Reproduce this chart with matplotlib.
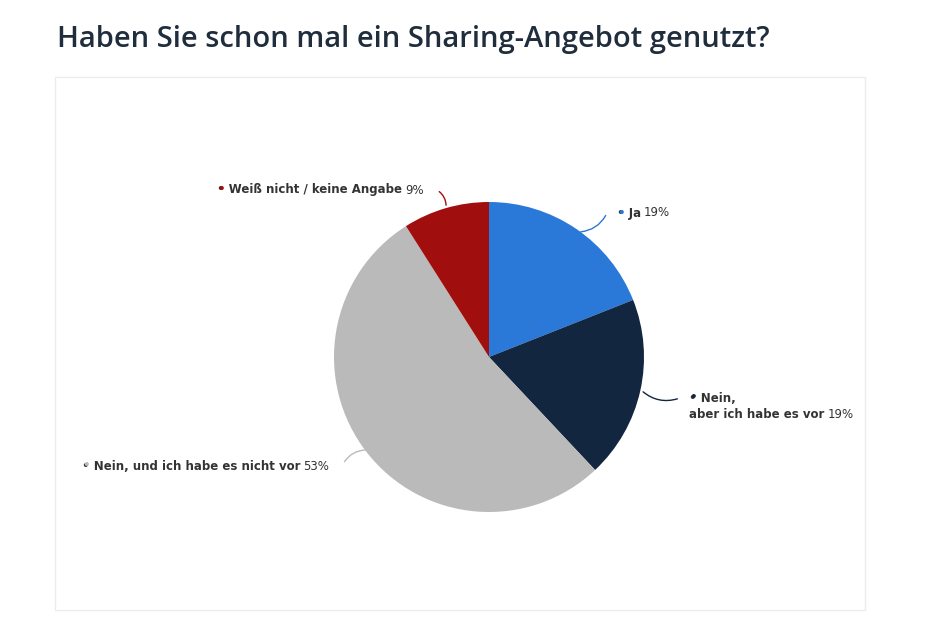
import matplotlib
matplotlib.use("Agg")
import matplotlib.pyplot as plt
from matplotlib.patches import Rectangle

labels = ["Ja", "Nein,\naber ich habe es vor", "Nein, und ich habe es nicht vor", "Weiß nicht / keine Angabe"]
values = [19, 19, 53, 9]
colors = ["#2a78d8", "#12263f", "#bababa", "#a10e0e"]
title = "Haben Sie schon mal ein Sharing-Angebot genutzt?"

W, H = 951, 634
fig = plt.figure(figsize=(W/100, H/100), dpi=100)
ax = fig.add_axes([0, 0, 1, 1])
Y = lambda y: H - y

ax.pie(values, colors=colors, startangle=90, counterclock=False, center=(489, Y(357)), radius=155,
       wedgeprops=dict(linewidth=0))
ax.set_xlim(0, W); ax.set_ylim(0, H); ax.axis("off")
ax.set_aspect("auto")
ax.add_patch(Rectangle((55, Y(610)), 810, 533, facecolor="none", edgecolor="#ececec", lw=1))
fig.text(57/W, 1-40/H, title, fontsize=21, fontfamily="Open Sans", fontweight="semibold",
         color="#1f2d3d", va="center", ha="left")

# label anchor (pixel), leader start, leader end
specs = [((617, 213), (578, 232), (607, 213)),
         ((689, 398), (641, 390), (680, 398)),
         ((82, 466), (368, 450), (343, 464)),
         ((217, 190), (446, 208), (437, 190))]
fig.canvas.draw()
r = fig.canvas.get_renderer()
for (lab, v, c, (txy, p0, p1)) in zip(labels, values, colors, specs):
    ax.annotate("", xy=(p1[0], Y(p1[1])), xytext=(p0[0], Y(p0[1])),
                arrowprops=dict(arrowstyle="-", color=c, lw=1, connectionstyle="arc3,rad=0.3"))
    lines = lab.split("\n")
    tx, ty = txy
    for i, ln in enumerate(lines):
        yy = Y(ty + 16*i)
        s = ("• " if i == 0 else "") + ln
        t = ax.text(tx, yy, s, fontsize=8.5, fontweight="bold", color="#333333", va="center", ha="left")
        if i == 0:
            ax.text(tx, yy, "•", fontsize=8.5, fontweight="bold", color=c, va="center", ha="left")
        if i == len(lines) - 1:
            bb = t.get_window_extent(renderer=r)
            ax.text(bb.x1 + 3, yy, f"{v}%", fontsize=8.5, color="#333333", va="center", ha="left")

fig.savefig("out.png", dpi=100, facecolor="white")
